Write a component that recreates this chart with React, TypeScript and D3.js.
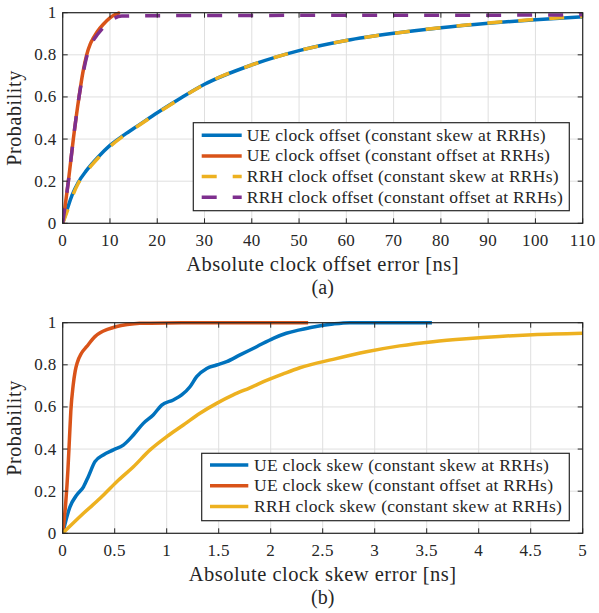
import React from 'react';
import * as d3 from 'd3';

// ---- data ----
const offsetTicksX = [0, 10, 20, 30, 40, 50, 60, 70, 80, 90, 100, 110];
const skewTicksX = [0, 0.5, 1, 1.5, 2, 2.5, 3, 3.5, 4, 4.5, 5];
const probTicks = [0, 0.2, 0.4, 0.6, 0.8, 1];

// (a) absolute clock offset error [ns]
const ueOffSkewX = [0, 1, 2, 3.3, 5, 7.5, 10, 13, 16, 20, 25, 30, 40, 50, 60, 70, 80, 90, 100, 110];
const ueOffSkewP = [0, 0.07, 0.135, 0.195, 0.25, 0.315, 0.37, 0.42, 0.465, 0.525, 0.595, 0.66, 0.752, 0.82, 0.868, 0.902, 0.929, 0.95, 0.967, 0.98];
const ueOffOffX = [0, 0.5, 1.2, 2.25, 3.45, 4.3, 5.07, 5.8, 6.5, 7.3, 8.6, 10, 11, 12.1];
const ueOffOffP = [0, 0.08, 0.2, 0.4, 0.6, 0.72, 0.8, 0.85, 0.88, 0.91, 0.945, 0.975, 0.99, 1.0];
const rrhOffSkewX = [0, 1, 2, 3.3, 5, 7.5, 10, 13, 16, 20, 25, 30, 40, 50, 60, 70, 80, 90, 100, 110];
const rrhOffSkewP = [0, 0.06, 0.125, 0.19, 0.245, 0.31, 0.365, 0.418, 0.463, 0.523, 0.594, 0.66, 0.752, 0.82, 0.868, 0.902, 0.929, 0.951, 0.968, 0.982];
const rrhOffOffX = [0, 0.5, 1.2, 2.25, 3.45, 4.3, 5.07, 5.8, 6.5, 7.3, 8.2, 9.3, 10.5, 12.5, 20, 40, 60, 80, 100, 110];
const rrhOffOffP = [0, 0.08, 0.2, 0.4, 0.6, 0.71, 0.79, 0.84, 0.87, 0.895, 0.92, 0.945, 0.968, 0.984, 0.986, 0.987, 0.988, 0.988, 0.989, 0.99];

// (b) absolute clock skew error [ns]
const ueSkewSkewX = [0, 0.07, 0.135, 0.2, 0.246, 0.31, 0.39, 0.487, 0.583, 0.68, 0.775, 0.87, 0.952, 1.063, 1.144, 1.224, 1.288, 1.385, 1.48, 1.577, 1.705, 1.865, 2.025, 2.15, 2.28, 2.41, 2.6, 2.76, 3.0, 3.55];
const ueSkewSkewP = [0, 0.126, 0.182, 0.221, 0.269, 0.34, 0.372, 0.396, 0.419, 0.467, 0.522, 0.562, 0.609, 0.633, 0.657, 0.696, 0.744, 0.783, 0.799, 0.815, 0.847, 0.886, 0.926, 0.95, 0.966, 0.98, 0.994, 1, 1, 1];
const ueSkewOffX = [0, 0.03, 0.05, 0.065, 0.078, 0.1, 0.12, 0.14, 0.18, 0.23, 0.31, 0.36, 0.43, 0.52, 0.62, 0.74, 1.0, 1.5, 2.0, 2.36];
const ueSkewOffP = [0, 0.15, 0.3, 0.45, 0.58, 0.7, 0.77, 0.81, 0.855, 0.886, 0.934, 0.952, 0.968, 0.982, 0.991, 0.997, 0.999, 1, 1, 1];
const rrhSkewSkewX = [0, 0.2, 0.36, 0.52, 0.68, 0.84, 1.0, 1.16, 1.32, 1.48, 1.64, 1.8, 1.96, 2.12, 2.28, 2.6, 2.92, 3.24, 3.56, 3.88, 4.2, 4.52, 5.0];
const rrhSkewSkewP = [0, 0.095, 0.166, 0.245, 0.316, 0.396, 0.459, 0.514, 0.57, 0.617, 0.657, 0.691, 0.726, 0.757, 0.786, 0.826, 0.862, 0.89, 0.91, 0.924, 0.935, 0.943, 0.95];

const offsetLabels = [
  'UE clock offset (constant skew at RRHs)',
  'UE clock offset (constant offset at RRHs)',
  'RRH clock offset (constant skew at RRHs)',
  'RRH clock offset (constant offset at RRHs)',
];
const skewLabels = [
  'UE clock skew (constant skew at RRHs)',
  'UE clock skew (constant offset at RRHs)',
  'RRH clock skew (constant skew at RRHs)',
];

const BLUE = '#0072BD';
const ORANGE = '#D95319';
const YELLOW = '#EDB120';
const PURPLE = '#7E2F8E';
const INK = '#262626';
const FONT = 'Liberation Serif, DejaVu Serif, serif';
const DASH = '15,16';

const zip = (xs, ys) => xs.map((x, i) => [x, ys[i]]);

const Panel = ({ top, xMax, xTicks, series, labels, legend, xLabel, tag }) => {
  const left = 62.7, right = 582.7, height = 210.6;
  const x = d3.scaleLinear().domain([0, xMax]).range([left, right]);
  const y = d3.scaleLinear().domain([0, 1]).range([top + height, top]);
  const line = d3.line().x(d => x(d[0])).y(d => y(d[1])).curve(d3.curveMonotoneX);
  const bottom = top + height;
  const clipId = 'clip' + Math.round(top);
  const txt = { fill: INK, fontFamily: FONT };
  return (
    <g>
      <defs>
        <clipPath id={clipId}>
          <rect x={left} y={top - 3} width={right - left + 2} height={height + 4} />
        </clipPath>
      </defs>
      <rect x={left} y={top} width={right - left} height={height} fill='white' />
      {xTicks.map(t => (
        <line key={'gx' + t} x1={x(t)} x2={x(t)} y1={top} y2={bottom} stroke='#dfdfdf' strokeWidth={1} />
      ))}
      {probTicks.map(t => (
        <line key={'gy' + t} x1={left} x2={right} y1={y(t)} y2={y(t)} stroke='#dfdfdf' strokeWidth={1} />
      ))}
      <g clipPath={`url(#${clipId})`}>
        {series.map((s, i) => (
          <path key={i} d={line(s.pts)} fill='none' stroke={s.color} strokeWidth={3.5}
            strokeDasharray={s.dash ? DASH : undefined} strokeLinejoin='round' />
        ))}
      </g>
      {/* box and inward ticks */}
      <rect x={left} y={top} width={right - left} height={height} fill='none' stroke={INK} strokeWidth={1.2} />
      {xTicks.map(t => (
        <g key={'tx' + t}>
          <line x1={x(t)} x2={x(t)} y1={bottom} y2={bottom - 5} stroke={INK} />
          <line x1={x(t)} x2={x(t)} y1={top} y2={top + 5} stroke={INK} />
          <text x={x(t)} y={bottom + 23} textAnchor='middle' fontSize={17} letterSpacing={0.4} {...txt}>{String(t)}</text>
        </g>
      ))}
      {probTicks.map(t => (
        <g key={'ty' + t}>
          <line x1={left} x2={left + 5} y1={y(t)} y2={y(t)} stroke={INK} />
          <line x1={right} x2={right - 5} y1={y(t)} y2={y(t)} stroke={INK} />
          <text x={left - 6} y={y(t) + 5.5} textAnchor='end' fontSize={17} letterSpacing={0.4} {...txt}>{String(t)}</text>
        </g>
      ))}
      <text transform={`translate(21 ${(top + bottom) / 2}) rotate(-90)`} textAnchor='middle' fontSize={20} letterSpacing={0.6} {...txt}>Probability</text>
      <text x={(left + right) / 2} y={bottom + 48} textAnchor='middle' fontSize={20.5} letterSpacing={0.5} {...txt}>{xLabel}</text>
      <text x={(left + right) / 2} y={bottom + 71} textAnchor='middle' fontSize={20} {...txt}>{tag}</text>
      {/* legend */}
      <g>
        <rect x={legend.x} y={legend.y} width={legend.w} height={legend.h} fill='white' stroke={INK} strokeWidth={1.2} />
        {labels.map((lab, i) => {
          const cy = legend.y + legend.row0 + i * legend.step;
          const s = series[i];
          return (
            <g key={lab}>
              <line x1={legend.x + legend.lx0} x2={legend.x + legend.lx1} y1={cy} y2={cy} stroke={s.color} strokeWidth={3.5}
                strokeDasharray={s.dash ? DASH : undefined} />
              <text x={legend.x + legend.tx} y={cy + 5.5} fontSize={17.5} letterSpacing={0.28} {...txt}>{lab}</text>
            </g>
          );
        })}
      </g>
    </g>
  );
};

export default function App() {
  const offsetSeries = [
    { pts: zip(ueOffSkewX, ueOffSkewP), color: BLUE, dash: false },
    { pts: zip(ueOffOffX, ueOffOffP), color: ORANGE, dash: false },
    { pts: zip(rrhOffSkewX, rrhOffSkewP), color: YELLOW, dash: true },
    { pts: zip(rrhOffOffX, rrhOffOffP), color: PURPLE, dash: true },
  ];
  const skewSeries = [
    { pts: zip(ueSkewSkewX, ueSkewSkewP), color: BLUE, dash: false },
    { pts: zip(ueSkewOffX, ueSkewOffP), color: ORANGE, dash: false },
    { pts: zip(rrhSkewSkewX, rrhSkewSkewP), color: YELLOW, dash: false },
  ];
  return (
    <svg width={599} height={613} style={{ position: 'absolute', left: 0, top: 0, background: 'white' }}>
      <rect width={599} height={613} fill='white' />
      <Panel top={12.7} xMax={110} xTicks={offsetTicksX}
        series={offsetSeries} labels={offsetLabels}
        legend={{ x: 193.3, y: 122.7, w: 376, h: 88, row0: 12.5, step: 20.7, lx0: 8.4, lx1: 48.4, tx: 53.4 }}
        xLabel='Absolute clock offset error [ns]' tag='(a)' />
      <Panel top={322.7} xMax={5} xTicks={skewTicksX}
        series={skewSeries} labels={skewLabels}
        legend={{ x: 201.7, y: 453.3, w: 367.6, h: 67.4, row0: 11.7, step: 20.8, lx0: 8.3, lx1: 46.6, tx: 52.3 }}
        xLabel='Absolute clock skew error [ns]' tag='(b)' />
    </svg>
  );
}
